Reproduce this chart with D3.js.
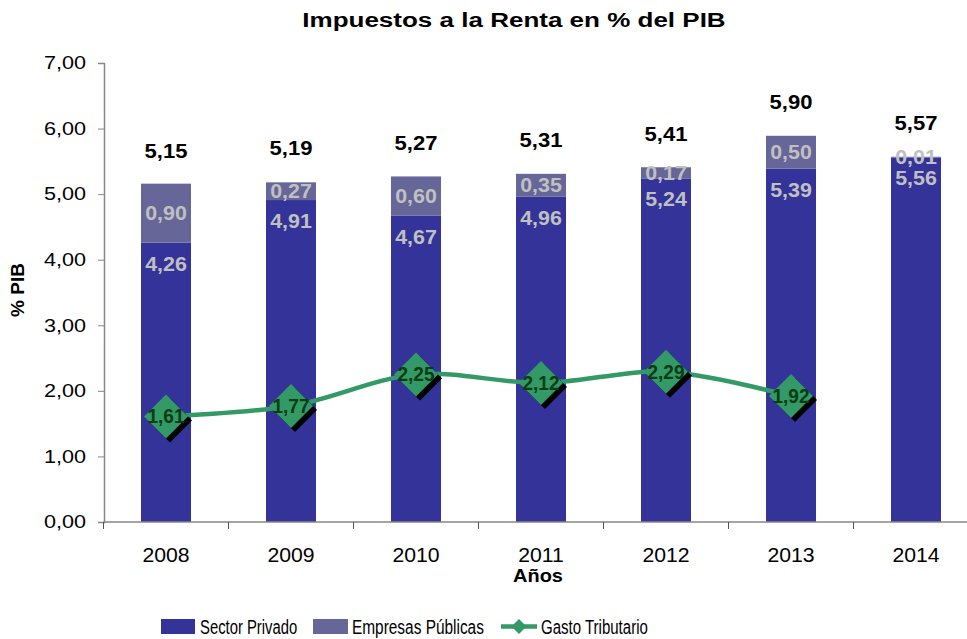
<!DOCTYPE html>
<html>
<head>
<meta charset="utf-8">
<script src="https://cdn.jsdelivr.net/npm/d3@7"></script>
<style>
  body { margin: 0; background: #fff; }
  svg { display: block; font-family: "Liberation Sans", Arial, sans-serif; }
</style>
</head>
<body>
<svg id="chart" width="967" height="639"></svg>
<script>
// data
const years = ["2008", "2009", "2010", "2011", "2012", "2013", "2014"];
const privado = [4.26, 4.91, 4.67, 4.96, 5.24, 5.39, 5.56];
const publicas = [0.90, 0.27, 0.60, 0.35, 0.17, 0.50, 0.01];
const totales = [5.15, 5.19, 5.27, 5.31, 5.41, 5.90, 5.57];
const gastoYears = ["2008", "2009", "2010", "2011", "2012", "2013"];
const gasto = [1.61, 1.77, 2.25, 2.12, 2.29, 1.92];
const yTicks = [0, 1, 2, 3, 4, 5, 6, 7];

const C_PRIV = "#333399", C_PUB = "#666699", C_GASTO = "#339966";

const fmt = d3.formatLocale({ decimal: ",", thousands: ".", grouping: [3], currency: ["", ""] }).format(".2f");

// stretch text horizontally to match the reference's wider/narrower glyphs
function stretch(sel, k) {
    sel.each(function () {
        const L = this.getComputedTextLength();
        this.setAttribute("textLength", L * k);
        this.setAttribute("lengthAdjust", "spacingAndGlyphs");
    });
}

const svg = d3.select("#chart");

const x = d3.scaleBand().domain(years).range([103.5, 978.5]).paddingInner(0.6).paddingOuter(0.3);
const y = d3.scaleLinear().domain([0, 7]).range([522, 63]);
const cx = d => x(d) + x.bandwidth() / 2;

// title
svg.append("text")
    .attr("x", 514).attr("y", 27)
    .attr("text-anchor", "middle")
    .style("font-size", "20px").style("font-weight", "bold")
    .text("Impuestos a la Renta en % del PIB")
    .call(stretch, 1.3);

// bars
const bars = svg.append("g");
bars.selectAll(".priv").data(years).join("rect")
    .attr("x", d => x(d)).attr("width", x.bandwidth())
    .attr("y", (d, i) => y(privado[i]))
    .attr("height", (d, i) => y(0) - y(privado[i]))
    .attr("fill", C_PRIV);
bars.selectAll(".pub").data(years).join("rect")
    .attr("x", d => x(d)).attr("width", x.bandwidth())
    .attr("y", (d, i) => y(privado[i] + publicas[i]))
    .attr("height", (d, i) => y(privado[i]) - y(privado[i] + publicas[i]))
    .attr("fill", C_PUB);

// axes
const yAxis = svg.append("g")
    .attr("transform", "translate(104,0)")
    .call(d3.axisLeft(y).tickValues(yTicks).tickFormat(fmt).tickSize(6).tickPadding(12));
yAxis.select(".domain").attr("stroke", "#868686").attr("stroke-width", 1.5);
yAxis.selectAll(".tick line").attr("stroke", "#868686");
yAxis.selectAll("text").style("font-size", "18px").attr("fill", "#000").call(stretch, 1.2);

const xAxisG = svg.append("g");
xAxisG.append("line")
    .attr("x1", 103.5).attr("x2", 978.5).attr("y1", y(0)).attr("y2", y(0))
    .attr("stroke", "#868686").attr("stroke-width", 1.5);
xAxisG.selectAll(".xt").data(years.concat(["_end"])).join("line")
    .attr("x1", (d, i) => 103.5 + i * x.step()).attr("x2", (d, i) => 103.5 + i * x.step())
    .attr("y1", y(0)).attr("y2", y(0) + 7)
    .attr("stroke", "#555");
xAxisG.selectAll(".xl").data(years).join("text")
    .attr("x", d => cx(d)).attr("y", 562)
    .attr("text-anchor", "middle")
    .style("font-size", "20px")
    .text(d => d)
    .call(stretch, 1.06);

svg.append("text")
    .attr("x", 538).attr("y", 582)
    .attr("text-anchor", "middle")
    .style("font-size", "19px").style("font-weight", "bold")
    .text("Años")
    .call(stretch, 1.05);

svg.append("text")
    .attr("transform", "translate(24,290) rotate(-90)")
    .attr("text-anchor", "middle")
    .style("font-size", "19px").style("font-weight", "bold")
    .text("% PIB");

// bar labels
const lab = svg.append("g").attr("text-anchor", "middle").style("font-weight", "bold");
lab.selectAll(".tot").data(years).join("text")
    .attr("x", d => cx(d)).attr("y", (d, i) => y(totales[i]) - 26.5)
    .style("font-size", "21px").attr("fill", "#000")
    .text((d, i) => fmt(totales[i]))
    .call(stretch, 1.05);
lab.selectAll(".pl").data(years).join("text")
    .attr("x", d => cx(d)).attr("y", (d, i) => y(privado[i]) + 28)
    .style("font-size", "20px").attr("fill", "#c0c0c0")
    .text((d, i) => fmt(privado[i]))
    .call(stretch, 1.07);
lab.selectAll(".ul").data(years).join("text")
    .attr("x", d => cx(d)).attr("y", (d, i) => y(privado[i] + publicas[i] / 2) + 7)
    .style("font-size", "20px").attr("fill", "#c0c0c0")
    .text((d, i) => fmt(publicas[i]))
    .call(stretch, 1.07);

// gasto tributario line
const line = d3.line()
    .x((d, i) => cx(gastoYears[i]))
    .y(d => y(d))
    .curve(d3.curveCatmullRom.alpha(0.5));
svg.append("path")
    .datum(gasto)
    .attr("d", line)
    .attr("fill", "none")
    .attr("stroke", C_GASTO)
    .attr("stroke-width", 4.5);

const diamond = r => `M0,${-r}L${r},0L0,${r}L${-r},0Z`;
const mk = svg.append("g");
mk.selectAll(".sh").data(gasto).join("path")
    .attr("transform", (d, i) => `translate(${cx(gastoYears[i]) + 4},${y(d) + 4})`)
    .attr("d", diamond(22)).attr("fill", "#000");
mk.selectAll(".dm").data(gasto).join("path")
    .attr("transform", (d, i) => `translate(${cx(gastoYears[i])},${y(d)})`)
    .attr("d", diamond(22)).attr("fill", C_GASTO);
mk.selectAll(".gl").data(gasto).join("text")
    .attr("x", (d, i) => cx(gastoYears[i])).attr("y", d => y(d) + 7)
    .attr("text-anchor", "middle")
    .style("font-size", "20px").style("font-weight", "bold")
    .attr("fill", "#0a3d14")
    .text(d => fmt(d))
    .call(stretch, 0.95);

// legend
const leg = svg.append("g");
leg.append("rect").attr("x", 161).attr("y", 619).attr("width", 34).attr("height", 15).attr("fill", C_PRIV);
leg.append("text").attr("x", 200).attr("y", 633.5).style("font-size", "19.5px").text("Sector Privado").call(stretch, 0.76);
leg.append("rect").attr("x", 313).attr("y", 619).attr("width", 35).attr("height", 15).attr("fill", C_PUB);
leg.append("text").attr("x", 352).attr("y", 633.5).style("font-size", "19.5px").text("Empresas Públicas").call(stretch, 0.79);
leg.append("line").attr("x1", 501).attr("x2", 537).attr("y1", 626.5).attr("y2", 626.5)
    .attr("stroke", C_GASTO).attr("stroke-width", 4.5);
leg.append("path").attr("transform", "translate(519,626.5)").attr("d", diamond(7.5)).attr("fill", C_GASTO);
leg.append("text").attr("x", 541).attr("y", 633.5).style("font-size", "19.5px").text("Gasto Tributario").call(stretch, 0.77);
</script>
</body>
</html>
